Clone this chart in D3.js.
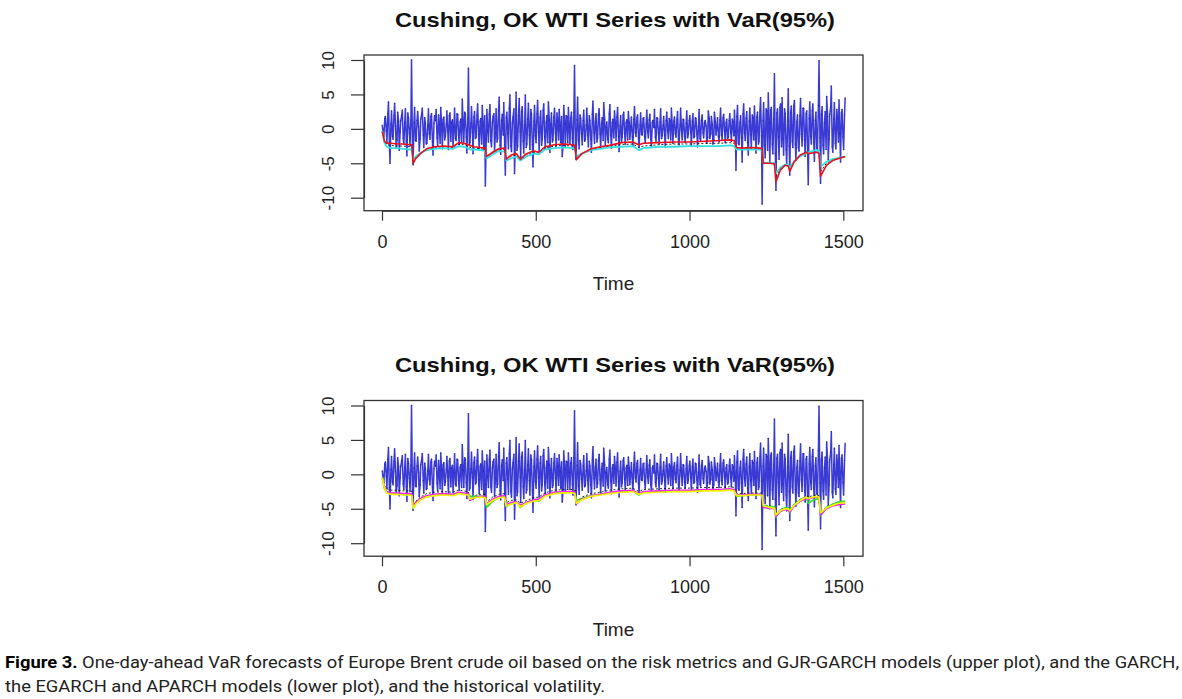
<!DOCTYPE html>
<html><head><meta charset="utf-8">
<script src="https://cdn.jsdelivr.net/npm/d3@7"></script>
<style>
body{margin:0;background:#fff;}
svg{display:block;}
</style></head><body>
<svg id="chart" width="1182" height="699"></svg>
<script>
const chartTitle = "Cushing, OK WTI Series with VaR(95%)";
const xLabel = "Time";
const xTicks = [0, 500, 1000, 1500];
const yTicks = [-10, -5, 0, 5, 10];
// returns sampled on days 1, 6, 11, ... (returnsA) and 4, 9, 14, ... (returnsB)
const returnStep = 5;
const returnsAStart = 1;
const returnsA = [
 0.5, -1.2, 1.8, -2.0, 3.9, -5.0, 2.6, -1.5, 3.7, -2.8,
 2.4, -3.1, 1.2, 2.7, -2.2, 2.9, -3.9, 1.6, -2.5, 10.0,
 -5.2, 3.1, -1.8, 2.5, -3.2, 1.4, 3.0, -2.7, 0.8, -2.1,
 2.9, -1.5, 2.2, -3.8, 1.9, 2.8, -2.4, 0.6, 3.1, -2.9,
 1.7, -1.1, 2.6, -3.0, 2.3, 0.9, -2.6, 3.0, -1.7, 2.1,
 -2.3, 1.4, 4.3, -1.9, 2.2, -3.5, 8.8, -2.0, 3.2, -3.6,
 2.5, -1.2, 3.6, -2.8, 1.5, 3.4, -3.0, -8.3, 2.8, -1.9,
 3.5, -2.6, 1.8, -3.2, 2.9, -1.4, 4.6, -3.7, 2.1, 3.8,
 -6.7, 2.4, -2.9, 4.9, -3.3, 1.7, -6.5, 5.3, -2.5, 4.4,
 -4.1, 3.2, -3.5, 4.9, -2.2, 3.7, -3.0, 2.1, -5.5, 3.4,
 -2.0, 4.1, -3.3, 2.6, -1.5, 3.6, -2.8, 1.9, 3.9, -3.4,
 2.3, -1.6, 3.0, -2.5, 1.1, 2.8, -2.0, -4.0, 3.4, -2.7,
 1.8, 3.1, -2.2, 2.4, -3.0, 9.2, -4.4, 4.6, -2.9, 1.5,
 -2.3, 2.7, -1.6, 3.0, -2.6, 1.2, -3.4, 4.0, -2.1, 2.2,
 -1.3, 2.9, -2.7, 1.6, 3.8, -2.4, 1.0, -2.0, 3.5, -2.8,
 1.4, 2.6, -1.7, 3.1, -3.3, 1.9, -1.2, 2.4, -2.2, 1.3,
 2.5, -1.5, 1.7, -2.4, 3.2, -1.1, 2.0, -2.7, 2.3, -0.9,
 1.6, -2.0, 2.7, -1.3, 2.1, -2.5, 1.2, 2.8, -1.8, 1.5,
 -2.2, 2.9, -1.0, 1.8, -2.6, 2.4, -1.4, 1.1, 3.0, -2.1,
 1.7, -1.2, 2.5, -2.3, 3.0, -1.6, 1.3, -2.0, 2.6, -0.8,
 1.9, -2.4, 2.2, -1.1, 1.5, -2.6, 2.8, -1.7, 2.0, -1.3,
 1.2, -2.1, 2.6, -1.4, 1.8, -2.2, 2.4, -0.9, 1.6, -1.9,
 3.0, -1.5, 2.1, -2.0, 1.4, -1.2, 2.2, -1.8, 1.0, 2.7,
 -6.0, 3.4, -2.3, 1.9, -4.8, 3.6, -1.7, 2.5, -3.8, 3.0,
 -2.9, 1.6, 3.3, -3.5, 2.4, -1.8, 4.5, -10.9, 3.8, -4.2,
 2.6, 5.2, -5.0, 3.1, -3.6, 8.0, -8.9, 2.9, -4.4, 3.6,
 4.5, -3.8, 2.2, -5.3, 5.8, -6.7, 3.3, -2.7, 4.1, -4.6,
 2.0, -3.2, 4.4, -2.5, 3.0, -4.0, 2.6, -8.1, 3.9, -2.2,
 3.6, -4.7, 2.4, -3.0, 9.9, -7.9, 3.2, -3.6, 2.5, 4.7,
 -4.5, 2.1, 6.2, -3.4, 3.8, -2.9, 1.5, 4.2, -4.8, 2.8,
 -3.0, 4.5
];
const returnsBStart = 4;
const returnsB = [
 -0.8, 1.5, -0.3, 2.2, -1.9, 0.7, -1.1, 1.9, 0.4, -1.6,
 1.1, -0.5, 2.0, -1.4, 0.9, -1.8, 2.3, -0.6, 1.3, -2.4,
 0.9, -1.7, 1.2, 0.3, -1.5, 2.1, -0.9, 1.6, -2.2, 0.5,
 -0.7, 1.8, -1.9, 0.8, 1.2, -1.3, 2.0, -2.1, 0.6, 1.4,
 -1.6, 0.7, -0.4, 1.9, -1.8, 1.3, 0.2, -1.4, 2.2, -0.9,
 1.0, -1.9, 0.6, 2.4, -1.2, 1.5, -2.3, 0.8, -0.5, 1.7,
 -1.4, 2.0, -0.8, 1.1, -2.2, 0.4, 1.9, -1.5, -0.3, 2.1,
 -1.8, 0.9, 2.2, -0.6, -1.9, 2.6, -2.4, 1.2, -0.9, -2.8,
 1.6, -0.7, 3.0, -2.5, 0.8, 2.9, -1.3, -3.1, 1.9, -0.4,
 2.5, -1.8, 0.6, -2.7, 1.4, -0.9, 2.8, -2.3, 1.1, -1.0,
 2.2, -0.5, 1.6, -2.4, 2.7, -1.2, 0.9, -2.0, 1.3, 0.6,
 -1.9, 1.7, -0.6, 2.3, -1.6, 0.4, 1.8, -2.2, 0.7, 1.9,
 -2.0, 0.3, 1.6, -1.4, 2.4, -2.6, 1.3, -1.7, 2.0, -0.7,
 1.2, -1.8, 0.5, -0.9, 1.9, -1.5, 2.1, -0.6, 1.0, -1.9,
 2.0, -0.8, 0.7, -1.7, 1.4, 0.2, -1.5, 2.2, -1.0, 0.9,
 -1.3, 0.8, 1.7, -1.1, 0.4, -1.8, 2.0, -0.7, 0.9, -1.6,
 0.9, 0.3, -1.2, 1.4, -0.5, 1.6, -1.3, 0.6, -0.8, 1.5,
 -1.1, 0.7, -0.4, 1.3, -1.5, 0.9, 0.2, -1.2, 1.6, -0.6,
 1.0, -1.4, 0.5, -0.9, 1.2, -0.3, 1.5, -1.6, 0.4, 1.1,
 -0.7, 1.3, -1.5, 0.6, -0.2, 1.4, -1.1, 0.8, -1.3, 1.2,
 -0.5, 1.1, -1.3, 1.6, -0.8, 0.3, -1.4, 1.2, -0.6, 0.9,
 0.4, -1.2, 1.5, -0.7, 0.6, -1.5, 1.0, 0.2, -1.1, 1.3,
 -0.9, 1.6, -0.3, 0.9, -1.4, 1.2, -0.5, 1.4, -1.0, -0.4,
 1.8, -2.1, 0.9, -1.3, 2.2, -0.6, 1.5, -2.0, 1.1, -0.8,
 2.0, -1.6, -0.4, 1.7, -2.2, 2.6, -1.0, 1.2, -2.4, 2.9,
 -3.1, 0.8, 2.7, -2.2, 1.4, -3.6, 2.3, -1.2, 3.1, -2.6,
 -1.4, 2.9, -3.0, 1.1, -2.5, 2.4, -1.8, 3.3, -2.2, 1.0,
 -2.7, 1.9, -0.8, 3.0, -1.6, 2.2, -3.2, 1.5, -1.1, 2.6,
 -2.0, 1.2, -2.8, 3.4, -1.3, 2.1, -2.4, 0.9, -3.0, 1.8,
 -1.5, 3.2, -2.6, 1.4, -2.1, 2.8, -1.9, -0.7, 2.3, -1.2,
 2.0
];
const varTime = [1, 8, 15, 30, 50, 70, 90, 97, 101, 110,
 125, 145, 170, 200, 230, 250, 265, 280, 286, 300,
 320, 336, 340, 360, 380, 398, 404, 420, 437, 450,
 470, 492, 510, 530, 560, 590, 620, 627, 632, 650,
 680, 710, 740, 780, 815, 835, 850, 900, 950, 1000,
 1050, 1100, 1130, 1145, 1153, 1170, 1200, 1230, 1236, 1240,
 1260, 1276, 1281, 1295, 1310, 1321, 1326, 1340, 1360, 1380,
 1386, 1400, 1415, 1421, 1426, 1445, 1465, 1485, 1506];
// upper plot
const varRiskMetrics = [-0.4, -1.8, -2.1, -2.1, -2.2, -2.2, -2.3, -2.3, -5.0, -4.3,
 -3.6, -2.9, -2.6, -2.5, -2.6, -2.0, -2.1, -2.3, -2.4, -2.6,
 -2.7, -2.8, -4.0, -3.4, -2.9, -2.8, -4.4, -3.8, -3.6, -4.4,
 -3.6, -3.2, -3.4, -2.6, -2.3, -2.2, -2.3, -2.4, -4.5, -3.6,
 -2.9, -2.6, -2.4, -2.0, -1.9, -2.3, -2.1, -2.0, -1.9, -1.9,
 -1.8, -1.7, -1.6, -1.7, -2.7, -2.8, -2.7, -2.8, -2.9, -5.0,
 -5.0, -5.1, -7.7, -6.0, -5.3, -5.4, -6.2, -4.8, -3.8, -3.4,
 -3.6, -3.5, -3.4, -3.6, -6.9, -5.3, -4.6, -4.3, -4.0];
const varGJR = [-0.3, -2.0, -2.6, -2.8, -2.8, -2.9, -3.0, -3.0, -4.4, -4.0,
 -3.5, -3.1, -2.9, -2.8, -2.9, -2.5, -2.6, -2.8, -3.0, -3.0,
 -3.1, -3.2, -4.3, -3.7, -3.2, -3.3, -4.6, -4.3, -4.0, -4.6,
 -4.0, -3.6, -3.7, -3.0, -2.8, -2.7, -2.8, -2.9, -4.0, -3.6,
 -3.1, -2.9, -2.7, -2.6, -2.5, -3.1, -2.8, -2.6, -2.6, -2.5,
 -2.5, -2.5, -2.4, -2.5, -3.0, -3.0, -3.0, -3.0, -3.1, -5.0,
 -4.9, -5.0, -6.5, -5.6, -5.2, -5.2, -5.7, -4.7, -4.0, -3.5,
 -3.4, -3.2, -3.1, -3.2, -5.5, -4.8, -4.4, -4.2, -4.1];
const varHistTop = [-0.3, -1.9, -2.3, -2.4, -2.5, -2.5, -2.6, -2.6, -4.6, -4.1,
 -3.5, -3.0, -2.7, -2.6, -2.7, -2.2, -2.3, -2.5, -2.7, -2.8,
 -2.9, -3.0, -4.2, -3.5, -3.0, -3.0, -4.5, -4.0, -3.8, -4.5,
 -3.8, -3.4, -3.5, -2.8, -2.5, -2.4, -2.5, -2.6, -4.2, -3.6,
 -3.0, -2.7, -2.5, -2.3, -2.2, -2.7, -2.5, -2.3, -2.2, -2.2,
 -2.1, -2.1, -2.0, -2.1, -2.9, -2.9, -2.9, -2.9, -3.0, -5.0,
 -4.9, -5.0, -7.0, -5.8, -5.2, -5.3, -5.9, -4.7, -3.9, -3.4,
 -3.5, -3.3, -3.2, -3.4, -6.2, -5.0, -4.5, -4.2, -4.0];
// lower plot
const varGARCH = [-0.6, -1.8, -2.5, -2.7, -2.7, -2.8, -2.8, -2.9, -4.6, -4.1,
 -3.5, -3.1, -2.9, -2.8, -2.9, -2.6, -2.7, -2.8, -3.8, -3.4,
 -3.2, -3.2, -4.3, -3.6, -3.2, -3.1, -4.4, -4.1, -4.0, -4.5,
 -4.1, -3.7, -3.6, -3.0, -2.6, -2.5, -2.5, -2.6, -4.3, -3.6,
 -3.1, -2.9, -2.6, -2.4, -2.3, -2.8, -2.5, -2.4, -2.3, -2.3,
 -2.2, -2.2, -2.1, -2.2, -3.0, -3.0, -2.9, -2.9, -3.0, -4.8,
 -4.9, -5.0, -6.1, -5.4, -5.1, -5.2, -5.5, -4.6, -3.9, -3.5,
 -3.6, -3.4, -3.3, -3.4, -5.9, -5.0, -4.6, -4.4, -4.3];
const varAPARCH = [-0.5, -2.0, -2.7, -2.9, -2.9, -3.0, -3.0, -3.1, -4.9, -4.3,
 -3.7, -3.3, -3.1, -3.0, -3.1, -2.8, -2.9, -3.0, -3.6, -3.4,
 -3.3, -3.4, -4.4, -3.8, -3.4, -3.3, -4.6, -4.3, -4.1, -4.7,
 -4.2, -3.9, -3.8, -3.2, -2.8, -2.7, -2.7, -2.8, -4.2, -3.7,
 -3.2, -3.0, -2.8, -2.6, -2.5, -2.9, -2.7, -2.6, -2.5, -2.5,
 -2.4, -2.4, -2.3, -2.4, -3.1, -3.1, -3.0, -3.0, -3.1, -4.6,
 -4.8, -4.9, -5.9, -5.3, -5.0, -5.0, -5.3, -4.5, -3.8, -3.3,
 -3.5, -3.3, -3.2, -3.3, -5.6, -4.9, -4.5, -4.2, -4.1];
const varEGARCH = [-0.4, -2.1, -2.6, -2.8, -2.8, -2.9, -2.9, -3.0, -5.0, -4.2,
 -3.6, -3.2, -3.0, -2.9, -3.0, -2.7, -2.8, -2.9, -3.2, -3.2,
 -3.2, -3.3, -4.8, -3.9, -3.3, -3.2, -4.7, -4.2, -4.0, -4.8,
 -4.1, -3.8, -3.9, -3.1, -2.7, -2.6, -2.6, -2.7, -3.8, -3.5,
 -3.1, -2.9, -2.7, -2.5, -2.4, -3.0, -2.6, -2.5, -2.4, -2.4,
 -2.3, -2.3, -2.2, -2.3, -3.2, -3.1, -3.0, -2.9, -3.0, -4.5,
 -4.7, -4.7, -6.2, -5.2, -4.9, -4.8, -5.6, -4.4, -3.7, -3.3,
 -4.2, -3.8, -3.6, -3.5, -6.0, -4.8, -4.4, -4.0, -3.9];
const varHistBottom = [-0.5, -1.6, -2.1, -2.3, -2.3, -2.4, -2.4, -2.5, -4.5, -3.9,
 -3.3, -2.8, -2.6, -2.5, -2.6, -2.3, -2.4, -2.5, -3.4, -3.1,
 -2.9, -2.9, -4.0, -3.3, -2.9, -2.8, -4.1, -3.8, -3.7, -4.2,
 -3.8, -3.4, -3.3, -2.7, -2.3, -2.2, -2.2, -2.3, -4.0, -3.3,
 -2.8, -2.6, -2.3, -2.1, -2.0, -2.5, -2.2, -2.1, -2.0, -2.0,
 -1.9, -1.9, -1.8, -1.9, -2.8, -2.8, -2.7, -2.7, -2.8, -4.4,
 -4.6, -4.7, -5.8, -5.1, -4.8, -4.9, -5.2, -4.3, -3.6, -3.2,
 -3.3, -3.1, -3.0, -3.1, -5.6, -4.7, -4.3, -4.1, -4.0];
const captionBold = "Figure 3.";
const captionRest1 = " One-day-ahead VaR forecasts of Europe Brent crude oil based on the risk metrics and GJR-GARCH models (upper plot), and the GARCH,";
const captionLine2 = "the EGARCH and APARCH models (lower plot), and the historical volatility.";

const svg = d3.select("#chart");
const FONT = "'Liberation Sans', Arial, Helvetica, sans-serif";

const panels = [
  {off: 0, lines: [
    {data: varHistTop, color: "#111", width: 0.9, dash: "2,2"},
    {data: varGJR, color: "#35e0e0", width: 1.8},
    {data: varRiskMetrics, color: "#e8101e", width: 1.6}
  ]},
  {off: 345.5, lines: [
    {data: varHistBottom, color: "#111", width: 0.9, dash: "2,2"},
    {data: varEGARCH, color: "#33dd33", width: 1.7},
    {data: varGARCH, color: "#f020f0", width: 1.6},
    {data: varAPARCH, color: "#f2f200", width: 1.7}
  ]}
];

const retPts = returnsA.map((v, i) => ({t: returnsAStart + i * returnStep, v}))
  .concat(returnsB.map((v, i) => ({t: returnsBStart + i * returnStep, v})))
  .sort((a, b) => a.t - b.t);

panels.forEach((p, pi) => {
  const off = p.off;
  const box = {x0: 364, x1: 863, y0: 55 + off, y1: 210.7 + off};
  const x = d3.scaleLinear().domain([0, 1500]).range([382, 843.3]);
  const y = d3.scaleLinear().domain([-10, 10]).range([197.7 + off, 60 + off]);
  const g = svg.append("g");
  const clipId = "clip" + pi;
  g.append("clipPath").attr("id", clipId).append("rect")
    .attr("x", box.x0).attr("y", box.y0)
    .attr("width", box.x1 - box.x0).attr("height", box.y1 - box.y0);
  const plot = g.append("g").attr("clip-path", `url(#${clipId})`);

  // return points (black dots)
  plot.append("g").selectAll("circle").data(retPts).join("circle")
    .attr("cx", d => x(d.t)).attr("cy", d => y(d.v)).attr("r", 0.8)
    .attr("fill", "#222").attr("opacity", 0.6);

  // return series
  const line = d3.line().x(d => x(d.t)).y(d => y(d.v));
  plot.append("path").datum(retPts).attr("d", line)
    .attr("fill", "none").attr("stroke", "#1818cc")
    .attr("stroke-width", 1.5).attr("stroke-opacity", 0.85)
    .attr("stroke-linejoin", "round");

  // VaR lines
  p.lines.forEach(l => {
    const pts = varTime.map((t, i) => ({t, v: l.data[i]}));
    plot.append("path").datum(pts).attr("d", line)
      .attr("fill", "none").attr("stroke", l.color)
      .attr("stroke-width", l.width)
      .attr("stroke-dasharray", l.dash || null)
      .attr("stroke-linejoin", "round");
  });

  // box
  g.append("rect").attr("x", box.x0).attr("y", box.y0)
    .attr("width", box.x1 - box.x0).attr("height", box.y1 - box.y0)
    .attr("fill", "none").attr("stroke", "#333").attr("stroke-width", 1.3);

  // y axis
  const ya = g.append("g").attr("transform", `translate(${box.x0},0)`)
    .call(d3.axisLeft(y).tickValues(yTicks).tickSize(13).tickSizeOuter(0).tickFormat(d3.format("d")));
  ya.select(".domain").attr("stroke", "#333").attr("stroke-width", 1.2);
  ya.selectAll(".tick line").attr("stroke", "#333").attr("stroke-width", 1.2);
  ya.selectAll(".tick text")
    .attr("transform", "rotate(-90)")
    .attr("x", 0).attr("y", -30).attr("dy", 0)
    .attr("text-anchor", "middle")
    .attr("font-family", FONT).attr("font-size", 17).attr("fill", "#222")
    .text(d => String(d));

  // x axis
  const xa = g.append("g").attr("transform", `translate(0,${box.y1})`)
    .call(d3.axisBottom(x).tickValues(xTicks).tickSize(10).tickSizeOuter(0).tickPadding(14.5).tickFormat(d3.format("d")));
  xa.select(".domain").attr("stroke", "#333").attr("stroke-width", 1.2);
  xa.selectAll(".tick line").attr("stroke", "#333").attr("stroke-width", 1.2);
  xa.selectAll(".tick text").attr("font-family", FONT).attr("font-size", 18).attr("fill", "#222");

  // title
  g.append("text").attr("x", 615).attr("y", 26.5 + off)
    .attr("text-anchor", "middle").attr("font-family", FONT)
    .attr("font-weight", "bold").attr("font-size", 21).attr("fill", "#111")
    .attr("textLength", 440).attr("lengthAdjust", "spacingAndGlyphs")
    .text(chartTitle);

  // x label
  g.append("text").attr("x", 613.5).attr("y", 290 + off)
    .attr("text-anchor", "middle").attr("font-family", FONT)
    .attr("font-size", 19).attr("fill", "#222").text(xLabel);
});

// caption
const CAP = "'Liberation Sans Narrow', 'Roboto', 'Liberation Sans', sans-serif";
const c1 = svg.append("text").attr("x", 5).attr("y", 668)
  .attr("font-family", CAP).attr("font-size", 17).attr("fill", "#222")
  .attr("textLength", 1174).attr("lengthAdjust", "spacingAndGlyphs");
c1.append("tspan").attr("font-weight", "bold").attr("fill", "#000").text(captionBold);
c1.append("tspan").text(captionRest1);
svg.append("text").attr("x", 5).attr("y", 692)
  .attr("font-family", CAP).attr("font-size", 17).attr("fill", "#222")
  .attr("textLength", 600).attr("lengthAdjust", "spacingAndGlyphs")
  .text(captionLine2);
</script>
</body></html>
